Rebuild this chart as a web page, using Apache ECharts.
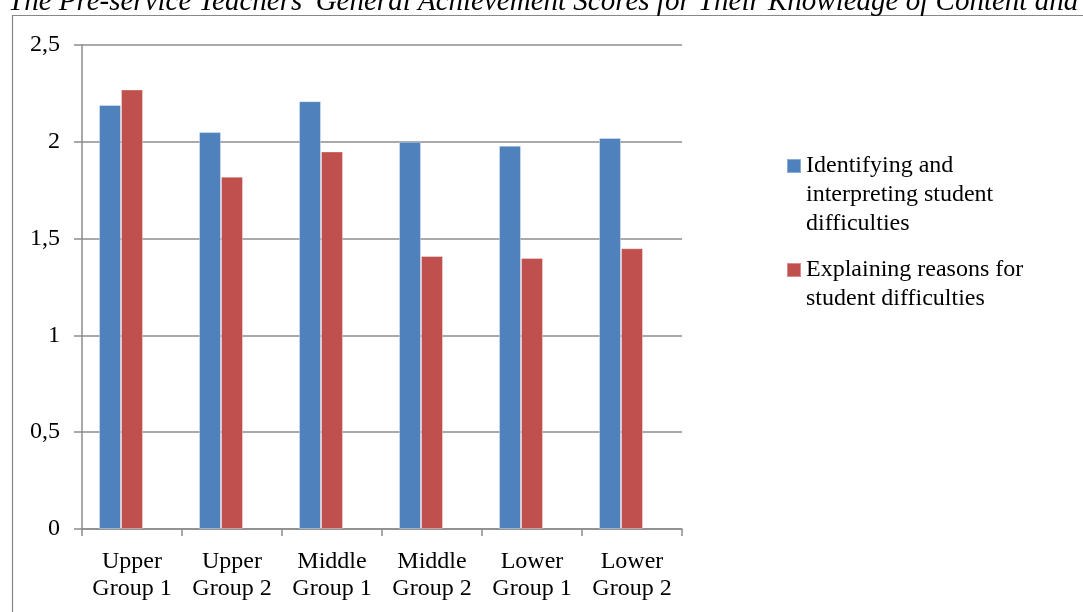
<!DOCTYPE html>
<html>
<head>
<meta charset="utf-8">
<script src="https://cdn.jsdelivr.net/npm/echarts@6/dist/echarts.min.js"></script>
<style>html,body{margin:0;padding:0;background:#fff;}#c{width:1083px;height:612px;}</style>
</head>
<body>
<div id="c"></div>
<script>
const titleText = "The Pre-service Teachers' General Achievement Scores for Their Knowledge of Content and Students";
const categories = ["Upper\nGroup 1", "Upper\nGroup 2", "Middle\nGroup 1", "Middle\nGroup 2", "Lower\nGroup 1", "Lower\nGroup 2"];
const seriesNames = ["Identifying and interpreting student difficulties", "Explaining reasons for student difficulties", ""];
const legendLabels = [" \n \nIdentifying and\ninterpreting student\ndifficulties", " \nExplaining reasons for\nstudent difficulties"];
const identifying = [2.19, 2.05, 2.21, 2.00, 1.98, 2.02];
const explaining = [2.27, 1.82, 1.95, 1.41, 1.40, 1.45];
const emptySeries = [null, null, null, null, null, null];
const yTicks = [0, 0.5, 1, 1.5, 2, 2.5];

const FONT = "'Liberation Serif', 'DejaVu Serif', serif";
const chart = echarts.init(document.getElementById('c'));
chart.setOption({
  animation: false,
  backgroundColor: '#fff',
  graphic: [
    { type: 'rect', shape: { x: 12.5, y: 15.5, width: 1200, height: 700 }, style: { fill: 'none', stroke: '#888', lineWidth: 1.2 }, silent: true, z: -1 },
    { type: 'text', x: 8, y: -12, style: { text: titleText, font: "italic 29px " + FONT, fill: '#000' }, silent: true }
  ],
  grid: { left: 82, right: 401, top: 45, bottom: 83 },
  legend: [
    {
      left: 786, top: 93.5, padding: 0, orient: 'vertical', itemWidth: 14, itemHeight: 14,
      icon: 'rect',
      data: [seriesNames[0]],
      formatter: () => legendLabels[0],
      textStyle: { fontFamily: FONT, fontSize: 24, color: '#000', lineHeight: 29 }
    },
    {
      left: 786, top: 226.5, padding: 0, orient: 'vertical', itemWidth: 14, itemHeight: 14,
      icon: 'rect',
      data: [seriesNames[1]],
      formatter: () => legendLabels[1],
      textStyle: { fontFamily: FONT, fontSize: 24, color: '#000', lineHeight: 29 }
    }
  ],
  xAxis: {
    type: 'category',
    data: categories,
    boundaryGap: true,
    axisLine: { lineStyle: { color: '#8c8c8c', width: 1.5 } },
    axisTick: { show: true, length: 7, lineStyle: { color: '#8c8c8c', width: 1.5 } },
    axisLabel: { fontFamily: FONT, fontSize: 24, color: '#000', lineHeight: 27, margin: 19, interval: 0 }
  },
  yAxis: {
    type: 'value',
    min: 0, max: 2.5, interval: 0.5,
    axisLine: { show: true, lineStyle: { color: '#8c8c8c', width: 1.5 } },
    axisTick: { show: true, length: 8, lineStyle: { color: '#8c8c8c', width: 1.5 } },
    splitLine: { lineStyle: { color: '#8c8c8c', width: 1.5 } },
    axisLabel: {
      fontFamily: FONT, fontSize: 24, color: '#000', margin: 22,
      formatter: v => yTicks.includes(v) ? String(v).replace('.', ',') : ''
    }
  },
  series: [
    { name: seriesNames[0], type: 'bar', data: identifying, barWidth: 22, barGap: '0%',
      itemStyle: { color: '#4F81BD', borderColor: 'rgba(255,255,255,0.35)', borderWidth: 1 } },
    { name: seriesNames[1], type: 'bar', data: explaining, barWidth: 22, barGap: '0%',
      itemStyle: { color: '#C0504D', borderColor: 'rgba(255,255,255,0.35)', borderWidth: 1 } },
    { name: seriesNames[2], type: 'bar', data: emptySeries, barWidth: 22, barGap: '0%',
      itemStyle: { color: '#9BBB59' } }
  ]
});
</script>
</body>
</html>
